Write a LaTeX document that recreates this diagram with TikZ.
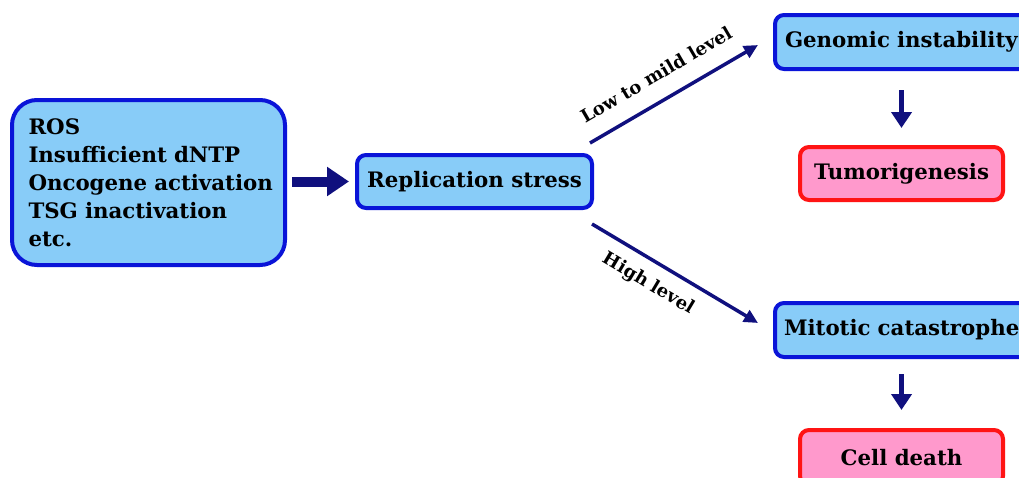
\documentclass[tikz,border=0pt]{standalone}
\usepackage{fontspec}
\setmainfont{DejaVu Serif}
\usetikzlibrary{arrows.meta}
\definecolor{boxblue}{HTML}{88CCF8}
\definecolor{edgeblue}{HTML}{0A14D8}
\definecolor{navy}{HTML}{10107E}
\definecolor{boxpink}{HTML}{FF99CC}
\definecolor{edgered}{HTML}{FF1414}
\begin{document}
\begin{tikzpicture}[x=1pt,y=-1pt,
  boxfont/.style={font=\bfseries\fontsize{21.3}{28}\selectfont},
  bluebox/.style={boxfont, draw=edgeblue, fill=boxblue, line width=4pt, rounded corners=9pt, inner sep=0pt},
  pinkbox/.style={boxfont, draw=edgered, fill=boxpink, line width=4pt, rounded corners=9pt, inner sep=0pt},
  bigarrow/.style={draw=navy, line width=10pt, -{Triangle[length=22pt,width=28pt]}},
  diagarrow/.style={draw=navy, line width=3.5pt, -{Triangle[length=14pt,width=13pt]}},
  downarrow/.style={draw=navy, line width=5pt, -{Triangle[length=16pt,width=20pt]}},
  lbl/.style={font=\bfseries\fontsize{18}{20}\selectfont, sloped}
]
\useasboundingbox (0,0) rectangle (1019,477);
\clip (0,0) rectangle (1019,477);
\fill[white] (0,0) rectangle (1019,477);

\node[bluebox, rounded corners=25pt, minimum width=273pt, minimum height=165pt,
      align=left, text width=240pt, inner xsep=16.5pt] (src) at (148.5,182.5)
  {\mbox{ROS}\\\mbox{Insufficient dNTP}\\\mbox{Oncogene activation}\\\mbox{TSG inactivation}\\\mbox{etc.}};

\node[bluebox, minimum width=235pt, minimum height=53pt] (rs) at (474.5,181.5) {Replication stress};

\node[bluebox, minimum width=260pt, minimum height=54pt, text width=240pt, align=left] (gi) at (905,42) {Genomic instability};
\node[pinkbox, minimum width=203pt, minimum height=53pt] (tum) at (901.5,173.5) {Tumorigenesis};

\node[bluebox, minimum width=260pt, minimum height=54pt, text width=242pt, align=left] (mc) at (905,330) {Mitotic catastrophe};
\node[pinkbox, minimum width=203pt, minimum height=55pt] (cd) at (901.5,457.5) {Cell death};

\draw[bigarrow, shorten <=5pt, shorten >=6pt] (src.east |- rs.west) -- (rs.west);

\draw[diagarrow] ([shift={(-4,-10)}]rs.north east) -- node[lbl, above, inner sep=17pt, pos=0.47] {Low to mild level} ([shift={(-15,3)}]gi.west);
\draw[diagarrow] ([shift={(-2,14)}]rs.south east) -- node[lbl, below, inner sep=12pt, pos=0.41] {High level} ([shift={(-15,-7)}]mc.west);

\draw[downarrow, shorten <=19pt, shorten >=17pt] (gi.south -| tum.north) -- (tum.north);
\draw[downarrow, shorten <=15pt, shorten >=18pt] (mc.south -| cd.north) -- (cd.north);
\end{tikzpicture}
\end{document}
